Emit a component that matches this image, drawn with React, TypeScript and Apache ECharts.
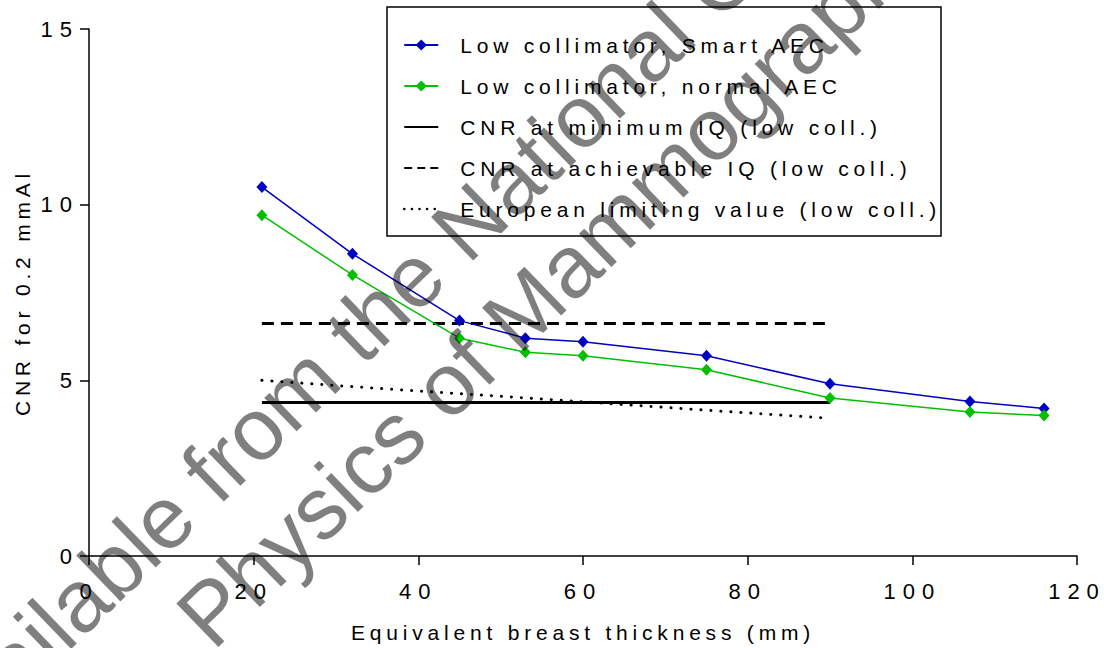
import React, { useEffect, useRef } from "react";
import * as echarts from "echarts";

const xThickness = [21, 32, 45, 53, 60, 75, 90, 107, 116];
const smartAEC = [10.5, 8.6, 6.7, 6.2, 6.1, 5.7, 4.9, 4.4, 4.2];
const normalAEC = [9.7, 8.0, 6.2, 5.8, 5.7, 5.3, 4.5, 4.1, 4.0];
const refX = [21, 90];
const minIQ = [4.37, 4.37];
const achievableIQ = [6.62, 6.62];
const euroX = [21, 32, 45, 53, 60, 75, 90];
const euroLimit = [5.0, 4.82, 4.62, 4.5, 4.39, 4.15, 3.92];

const seriesNames = [
  "Low collimator, Smart AEC",
  "Low collimator, normal AEC",
  "CNR at minimum IQ (low coll.)",
  "CNR at achievable IQ (low coll.)",
  "European limiting value (low coll.)",
];
const xTitle = "Equivalent breast thickness (mm)";
const yTitle = "CNR for 0.2 mmAl";
const watermark1 = "Available from the National Coordinating Centre for the";
const watermark2 = "Physics of Mammography";

const FONT = "'Liberation Sans', Arial, sans-serif";
const CLEAR = "rgba(0,0,0,0)";

export default function App() {
  const ref = useRef<HTMLDivElement>(null);
  useEffect(() => {
    if (!ref.current) return;
    const chart = echarts.init(ref.current, undefined, { renderer: "svg" });
    const pair = (xs: number[], ys: number[]) => xs.map((x, i) => [x, ys[i]]);
    const ang = (44 * Math.PI) / 180;
    chart.setOption({
      animation: false,
      backgroundColor: "#ffffff",
      textStyle: { fontFamily: FONT },
      grid: { left: 89, right: 27, top: 29, bottom: 92, containLabel: false },
      xAxis: {
        type: "value",
        min: 0,
        max: 120,
        interval: 20,
        name: xTitle,
        nameLocation: "middle",
        nameGap: 66,
        nameTextStyle: { fontSize: 21, color: "#000", fontFamily: FONT },
        axisLine: { lineStyle: { color: "#000", width: 1.5 } },
        axisTick: { length: 9, lineStyle: { color: "#000", width: 1.5 } },
        axisLabel: { fontSize: 22, color: "#000", margin: 24, fontFamily: FONT },
        splitLine: { show: false },
      },
      yAxis: {
        type: "value",
        min: 0,
        max: 15,
        interval: 5,
        name: yTitle,
        nameLocation: "middle",
        nameGap: 56,
        nameRotate: 90,
        nameTextStyle: { fontSize: 21, color: "#000", fontFamily: FONT },
        axisLine: { show: true, lineStyle: { color: "#000", width: 1.5 } },
        axisTick: { show: true, length: 9, lineStyle: { color: "#000", width: 1.5 } },
        axisLabel: { fontSize: 22, color: "#000", margin: 10, fontFamily: FONT },
        splitLine: { show: false },
      },
      legend: {
        orient: "vertical",
        left: 403,
        top: 34,
        padding: 0,
        itemWidth: 34,
        itemHeight: 14,
        itemGap: 19,
        textStyle: { fontSize: 21, color: "#000", lineHeight: 22, fontFamily: FONT, padding: [0, 0, 0, 17] },
        data: [
          { name: seriesNames[0] },
          { name: seriesNames[1] },
          { name: seriesNames[2] },
          { name: seriesNames[3], lineStyle: { type: [8, 5] } },
          { name: seriesNames[4], lineStyle: { type: [0.1, 7.5], width: 2.5 } },
        ],
        z: 6,
      },
      graphic: [
        {
          type: "rect",
          shape: { x: 387, y: 7, width: 554, height: 229 },
          style: { fill: "#fff", stroke: "#000", lineWidth: 1.5 },
          z: 5,
        },
        {
          type: "text",
          x: -76,
          y: 749,
          rotation: ang,
          z: 100,
          style: {
            text: watermark1,
            font: `88px ${FONT}`,
            fill: "rgba(0,0,0,0.5)",
            textAlign: "left",
            textVerticalAlign: "middle",
          },
        },
        {
          type: "text",
          x: 192,
          y: 630,
          rotation: ang,
          z: 100,
          style: {
            text: watermark2,
            font: `88px ${FONT}`,
            fill: "rgba(0,0,0,0.5)",
            textAlign: "left",
            textVerticalAlign: "middle",
          },
        },
      ],
      series: [
        {
          name: seriesNames[0],
          type: "line",
          data: pair(xThickness, smartAEC),
          symbol: "diamond",
          symbolSize: [11, 12],
          itemStyle: { color: "#0000c0" },
          lineStyle: { color: "#0000c0", width: 1.5 },
          z: 3,
        },
        {
          name: seriesNames[1],
          type: "line",
          data: pair(xThickness, normalAEC),
          symbol: "diamond",
          symbolSize: [11, 12],
          itemStyle: { color: "#00c000" },
          lineStyle: { color: "#00c000", width: 1.5 },
          z: 3,
        },
        {
          name: seriesNames[2],
          type: "line",
          data: pair(refX, minIQ),
          symbol: "none",
          itemStyle: { color: CLEAR, borderWidth: 0 },
          lineStyle: { color: "#000", width: 3 },
          z: 2,
        },
        {
          name: seriesNames[3],
          type: "line",
          data: pair(refX, achievableIQ),
          symbol: "none",
          itemStyle: { color: CLEAR, borderWidth: 0 },
          lineStyle: { color: "#000", width: 3, type: [12, 7] },
          z: 2,
        },
        {
          name: seriesNames[4],
          type: "line",
          data: pair(euroX, euroLimit),
          symbol: "none",
          itemStyle: { color: CLEAR, borderWidth: 0 },
          lineStyle: { color: "#000", width: 3, type: [0.1, 9.9], cap: "round" },
          z: 2,
        },
      ],
    });
    // wide letter spacing as in the reference rendering
    const texts = ref.current.querySelectorAll("text");
    texts.forEach((t) => {
      const s = (t.textContent || "").trim();
      const el = t as unknown as HTMLElement;
      if (s.startsWith("Available") || s.startsWith("Physics")) return;
      if (/^\d+$/.test(s)) el.style.letterSpacing = "7px";
      else el.style.letterSpacing = "4.8px";
    });
    return () => chart.dispose();
  }, []);
  return (
    <div
      ref={ref}
      style={{ position: "absolute", left: 0, top: 0, width: 1104, height: 648 }}
    />
  );
}
